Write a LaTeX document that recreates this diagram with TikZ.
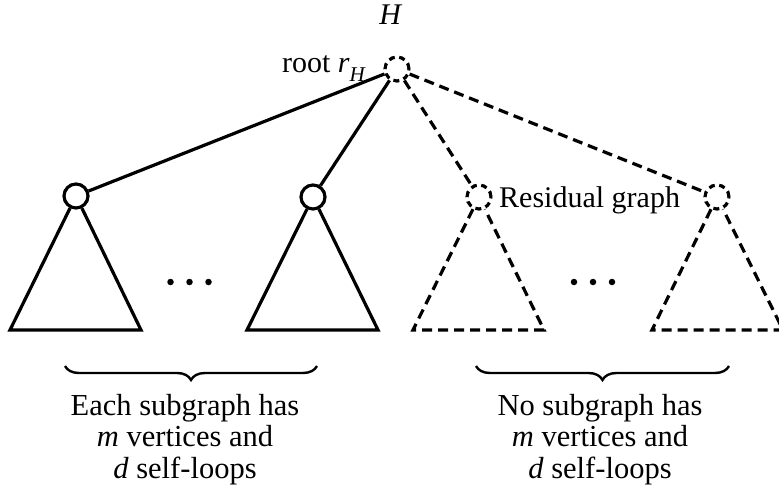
\documentclass[tikz,border=0pt]{standalone}
\usepackage{fontspec}
\setmainfont{Liberation Serif}
\usetikzlibrary{decorations.pathreplacing}
\begin{document}
\begin{tikzpicture}[x=1pt,y=-1pt,
  edge/.style={line width=3.2pt},
  dedge/.style={line width=3.2pt, dash pattern=on 10pt off 6pt},
  vtx/.style={circle, draw, line width=3.2pt, minimum size=24pt, inner sep=0pt},
  dvtx/.style={vtx, dash pattern=on 6pt off 4.5pt},
  lbl/.style={font=\fontsize{30}{31}\selectfont, inner sep=0pt},
  blk/.style={font=\fontsize{30.5}{31.5}\selectfont, inner sep=0pt, align=center},
  dotn/.style={circle, fill, minimum size=6.5pt, inner sep=0pt},
  brc/.style={decorate, decoration={brace, amplitude=14pt, mirror}, line width=2.4pt}]
\useasboundingbox (0,0) rectangle (779,492);

% vertices
\node[dvtx] (r) at (397,69) {};
\node[vtx]  (c1) at (76,196) {};
\node[vtx]  (c2) at (313,197) {};
\node[dvtx] (c3) at (479,197) {};
\node[dvtx] (c4) at (717,197) {};

% labels
\node[lbl, anchor=base] (H) at (391,25) {\textit{H}};
\node[lbl, anchor=base east] (rl) at (366,73) {root \textit{r}\raisebox{-0.3em}{\fontsize{21}{21}\selectfont\textit{H}}};
\node[lbl, anchor=base west] (res) at (499,207) {Residual graph};

% edges from root
\draw[edge] (r) -- (c1);
\draw[edge] (r) -- (c2);
\draw[dedge] (r) -- (c3);
\draw[dedge] (r) -- (c4);

% triangle base corners
\coordinate (a1) at (10,330);  \coordinate (b1) at (141,330);
\coordinate (a2) at (247,330); \coordinate (b2) at (378,330);
\coordinate (a3) at (413,330); \coordinate (b3) at (544,330);
\coordinate (a4) at (652,330); \coordinate (b4) at (783,330);

\draw[edge, line join=miter] (c1) -- (a1) -- (b1) -- (c1);
\draw[edge, line join=miter] (c2) -- (a2) -- (b2) -- (c2);
\draw[dedge] (c3) -- (a3) -- (b3) -- (c3);
\draw[dedge] (c4) -- (a4) -- (b4) -- (c4);

% dots
\foreach \i/\x in {1/170.5,2/189.5,3/208.5} \node[dotn] (dl\i) at (\x,282) {};
\foreach \i/\x in {1/574,2/593,3/612} \node[dotn] (dr\i) at (\x,282) {};

% braces
\coordinate (bl1) at (65,366); \coordinate (bl2) at (317,366);
\coordinate (br1) at (476,366); \coordinate (br2) at (729,366);
\draw[brc] (bl1) -- (bl2);
\draw[brc] (br1) -- (br2);

% captions
\node[blk, anchor=base] (capl) at (185,478) {Each subgraph has\\ \textit{m} vertices and\\ \textit{d} self-loops};
\node[blk, anchor=base] (capr) at (600,478) {No subgraph has\\ \textit{m} vertices and\\ \textit{d} self-loops};
\end{tikzpicture}
\end{document}
